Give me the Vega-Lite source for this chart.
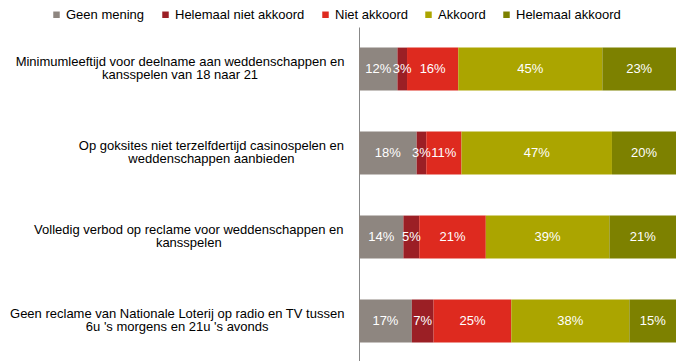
{
  "$schema": "https://vega.github.io/schema/vega-lite/v6.json",
  "width": 317,
  "height": 336,
  "autosize": "none",
  "padding": {"left": 359, "top": 27, "right": 8, "bottom": 0},
  "background": "white",
  "config": {"font": "Liberation Sans", "view": {"stroke": null}},
  "data": {
    "values": [
      {"vraag": "Minimumleeftijd voor deelname aan weddenschappen en|kansspelen van 18 naar 21", "antwoord": "Geen mening", "procent": 12},
      {"vraag": "Minimumleeftijd voor deelname aan weddenschappen en|kansspelen van 18 naar 21", "antwoord": "Helemaal niet akkoord", "procent": 3},
      {"vraag": "Minimumleeftijd voor deelname aan weddenschappen en|kansspelen van 18 naar 21", "antwoord": "Niet akkoord", "procent": 16},
      {"vraag": "Minimumleeftijd voor deelname aan weddenschappen en|kansspelen van 18 naar 21", "antwoord": "Akkoord", "procent": 45},
      {"vraag": "Minimumleeftijd voor deelname aan weddenschappen en|kansspelen van 18 naar 21", "antwoord": "Helemaal akkoord", "procent": 23},
      {"vraag": "Op goksites niet terzelfdertijd casinospelen en|weddenschappen aanbieden", "antwoord": "Geen mening", "procent": 18},
      {"vraag": "Op goksites niet terzelfdertijd casinospelen en|weddenschappen aanbieden", "antwoord": "Helemaal niet akkoord", "procent": 3},
      {"vraag": "Op goksites niet terzelfdertijd casinospelen en|weddenschappen aanbieden", "antwoord": "Niet akkoord", "procent": 11},
      {"vraag": "Op goksites niet terzelfdertijd casinospelen en|weddenschappen aanbieden", "antwoord": "Akkoord", "procent": 47},
      {"vraag": "Op goksites niet terzelfdertijd casinospelen en|weddenschappen aanbieden", "antwoord": "Helemaal akkoord", "procent": 20},
      {"vraag": "Volledig verbod op reclame voor weddenschappen en|kansspelen", "antwoord": "Geen mening", "procent": 14},
      {"vraag": "Volledig verbod op reclame voor weddenschappen en|kansspelen", "antwoord": "Helemaal niet akkoord", "procent": 5},
      {"vraag": "Volledig verbod op reclame voor weddenschappen en|kansspelen", "antwoord": "Niet akkoord", "procent": 21},
      {"vraag": "Volledig verbod op reclame voor weddenschappen en|kansspelen", "antwoord": "Akkoord", "procent": 39},
      {"vraag": "Volledig verbod op reclame voor weddenschappen en|kansspelen", "antwoord": "Helemaal akkoord", "procent": 21},
      {"vraag": "Geen reclame van Nationale Loterij op radio en TV tussen|6u 's morgens en 21u 's avonds", "antwoord": "Geen mening", "procent": 17},
      {"vraag": "Geen reclame van Nationale Loterij op radio en TV tussen|6u 's morgens en 21u 's avonds", "antwoord": "Helemaal niet akkoord", "procent": 7},
      {"vraag": "Geen reclame van Nationale Loterij op radio en TV tussen|6u 's morgens en 21u 's avonds", "antwoord": "Niet akkoord", "procent": 25},
      {"vraag": "Geen reclame van Nationale Loterij op radio en TV tussen|6u 's morgens en 21u 's avonds", "antwoord": "Akkoord", "procent": 38},
      {"vraag": "Geen reclame van Nationale Loterij op radio en TV tussen|6u 's morgens en 21u 's avonds", "antwoord": "Helemaal akkoord", "procent": 15}
    ]
  },
  "transform": [
    {"calculate": "indexof(['Geen mening','Helemaal niet akkoord','Niet akkoord','Akkoord','Helemaal akkoord'], datum.antwoord)", "as": "volgorde"},
    {"stack": "procent", "groupby": ["vraag"], "sort": [{"field": "volgorde", "order": "ascending"}], "offset": "normalize", "as": ["x0", "x1"]},
    {"calculate": "(datum.x0 + datum.x1) / 2", "as": "xm"},
    {"calculate": "datum.procent + '%'", "as": "etiket"}
  ],
  "encoding": {
    "y": {
      "field": "vraag",
      "type": "nominal",
      "sort": null,
      "scale": {"paddingInner": 0.49, "paddingOuter": 0.245},
      "axis": {
        "title": null,
        "domainColor": "#888888",
        "domainWidth": 1,
        "ticks": false,
        "labels": false
      }
    }
  },
  "layer": [
    {
      "mark": {"type": "bar"},
      "encoding": {
        "x": {"field": "x0", "type": "quantitative", "scale": {"domain": [0, 1], "nice": false}, "axis": null},
        "x2": {"field": "x1"},
        "color": {
          "field": "antwoord",
          "type": "nominal",
          "scale": {
            "domain": ["Geen mening", "Helemaal niet akkoord", "Niet akkoord", "Akkoord", "Helemaal akkoord"],
            "range": ["#8E8680", "#9B1F25", "#DE2A1F", "#ABA500", "#7D8100"]
          },
          "legend": {
            "orient": "none",
            "direction": "horizontal",
            "legendX": -309,
            "legendY": -19,
            "title": null,
            "padding": 0,
            "symbolType": "square",
            "symbolSize": 42,
            "symbolStrokeWidth": 0,
            "symbolOpacity": 1,
            "labelFontSize": 13,
            "labelColor": "#000000",
            "labelOffset": 3,
            "columnPadding": 14
          }
        }
      }
    },
    {
      "mark": {"type": "text", "color": "white", "fontSize": 13, "align": "center", "baseline": "middle"},
      "encoding": {
        "x": {"field": "xm", "type": "quantitative"},
        "text": {"field": "etiket"}
      }
    },
    {
      "transform": [{"filter": "datum.antwoord === 'Geen mening'"}],
      "mark": {
        "type": "text",
        "color": "#000000",
        "fontSize": 13,
        "align": "center",
        "baseline": "middle",
        "lineBreak": "|",
        "lineHeight": 13.5,
        "dy": -7.5,
        "dx": {"expr": "-10 - 6.65 * (0.556 * length(split(datum.vraag, '|')[0]) - 0.3 * (length(split(split(datum.vraag, '|')[0], 'i')) + length(split(split(datum.vraag, '|')[0], 'j')) + length(split(split(datum.vraag, '|')[0], 'l')) + length(split(split(datum.vraag, '|')[0], 'f')) + length(split(split(datum.vraag, '|')[0], 't')) + length(split(split(datum.vraag, '|')[0], 'r')) + length(split(split(datum.vraag, '|')[0], ' ')) - 7) + 0.25 * (length(split(split(datum.vraag, '|')[0], 'm')) + length(split(split(datum.vraag, '|')[0], 'w')) + length(split(split(datum.vraag, '|')[0], 'M')) + length(split(split(datum.vraag, '|')[0], 'G')) + length(split(split(datum.vraag, '|')[0], 'N')) + length(split(split(datum.vraag, '|')[0], 'O')) + length(split(split(datum.vraag, '|')[0], 'V')) - 7))"}
      },
      "encoding": {
        "x": {"datum": 0},
        "text": {"field": "vraag"}
      }
    }
  ]
}
